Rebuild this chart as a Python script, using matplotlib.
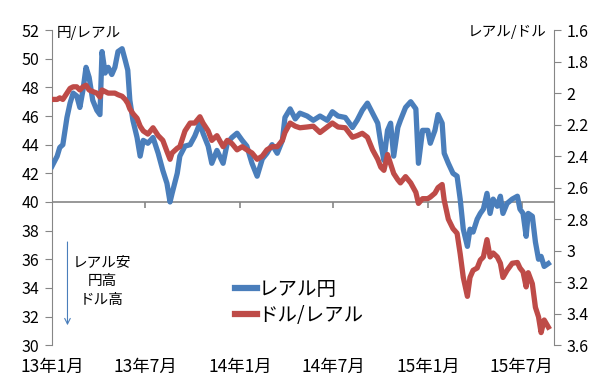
import numpy as np
import pandas as pd
import matplotlib
matplotlib.use("Agg")
import matplotlib.pyplot as plt
from matplotlib.lines import Line2D

plt.rcParams['font.family'] = ['Noto Sans CJK JP', 'DejaVu Sans']

dates = pd.to_datetime([
    "2013-01-01", "2013-01-11", "2013-01-16", "2013-01-22", "2013-01-30", "2013-02-05",
    "2013-02-11", "2013-02-18", "2013-02-24", "2013-03-02", "2013-03-08", "2013-03-14",
    "2013-03-21", "2013-03-29", "2013-04-04", "2013-04-08", "2013-04-14", "2013-04-20",
    "2013-04-27", "2013-05-03", "2013-05-09", "2013-05-17", "2013-05-23", "2013-05-28",
    "2013-06-01", "2013-06-07", "2013-06-15", "2013-06-21", "2013-06-27", "2013-07-06",
    "2013-07-16", "2013-07-26", "2013-08-04", "2013-08-12", "2013-08-18", "2013-08-22",
    "2013-09-01", "2013-09-06", "2013-09-16", "2013-09-26", "2013-10-05", "2013-10-15",
    "2013-10-21", "2013-10-31", "2013-11-07", "2013-11-17", "2013-11-29", "2013-12-07",
    "2013-12-16", "2013-12-26", "2014-01-05", "2014-01-14", "2014-01-24", "2014-02-03",
    "2014-02-13", "2014-02-22", "2014-03-04", "2014-03-14", "2014-03-24", "2014-03-29",
    "2014-04-08", "2014-04-18", "2014-04-27", "2014-05-11", "2014-05-23", "2014-06-05",
    "2014-06-19", "2014-06-29", "2014-07-10", "2014-07-24", "2014-08-07", "2014-08-16",
    "2014-08-26", "2014-09-05", "2014-09-15", "2014-09-25", "2014-10-01", "2014-10-07",
    "2014-10-14", "2014-10-20", "2014-10-26", "2014-11-03", "2014-11-08", "2014-11-18",
    "2014-11-28", "2014-12-08", "2014-12-13", "2014-12-21", "2014-12-31", "2015-01-05",
    "2015-01-14", "2015-01-20", "2015-01-28", "2015-02-01", "2015-02-09", "2015-02-18",
    "2015-02-26", "2015-03-04", "2015-03-10", "2015-03-18", "2015-03-23", "2015-03-29",
    "2015-04-06", "2015-04-12", "2015-04-18", "2015-04-25", "2015-05-01", "2015-05-07",
    "2015-05-15", "2015-05-21", "2015-05-26", "2015-06-03", "2015-06-13", "2015-06-23",
    "2015-06-28", "2015-07-04", "2015-07-10", "2015-07-14", "2015-07-22", "2015-07-28",
    "2015-08-03", "2015-08-08", "2015-08-14", "2015-08-22",
])

# レアル円 (円/レアル, left axis)
brl_jpy = [
    42.5, 43.2, 43.8, 44.0, 45.9, 46.9, 47.6, 47.4, 46.6, 47.8, 49.4, 48.7,
    47.1, 46.4, 46.1, 50.5, 49.0, 49.4, 48.9, 49.4, 50.5, 50.7, 49.9, 49.2,
    47.1, 45.7, 44.5, 43.2, 44.3, 44.1, 44.5, 43.4, 42.2, 41.3, 40.0, 40.6,
    42.0, 43.2, 43.9, 44.0, 44.6, 45.5, 44.8, 43.9, 42.7, 43.6, 42.7, 44.1,
    44.5, 44.8, 44.3, 43.9, 42.7, 41.8, 43.0, 43.4, 44.0, 43.4, 44.3, 45.9,
    46.5, 45.8, 46.2, 46.0, 45.7, 46.0, 45.7, 46.3, 46.0, 45.9, 45.2, 45.7,
    46.4, 46.9, 46.2, 45.5, 44.1, 42.9, 45.0, 45.5, 43.2, 45.2, 45.7, 46.6,
    47.0, 46.5, 42.7, 45.0, 45.0, 44.1, 45.0, 46.1, 45.5, 43.4, 42.7, 42.0,
    41.8, 40.2, 38.1, 36.9, 38.1, 37.9, 38.8, 39.2, 39.5, 40.6, 39.2, 40.2,
    39.7, 40.4, 39.2, 39.9, 40.2, 40.4, 39.5, 39.2, 37.6, 39.2, 39.0, 37.2,
    36.0, 36.2, 35.5, 35.7,
]

# ドル/レアル (レアル/ドル, right axis, inverted)
usd_brl = [
    2.04, 2.04, 2.03, 2.04, 2.00, 1.97, 1.96, 1.96, 1.98, 1.96, 1.95, 1.98,
    1.99, 2.00, 2.025, 1.98, 1.99, 2.00, 2.00, 2.00, 2.01, 2.02, 2.04, 2.065,
    2.10, 2.13, 2.16, 2.21, 2.24, 2.26, 2.22, 2.27, 2.30, 2.37, 2.42, 2.38,
    2.35, 2.34, 2.24, 2.19, 2.19, 2.15, 2.19, 2.24, 2.30, 2.27, 2.34, 2.30,
    2.32, 2.36, 2.34, 2.36, 2.38, 2.42, 2.40, 2.36, 2.34, 2.34, 2.30, 2.25,
    2.19, 2.21, 2.22, 2.215, 2.21, 2.25, 2.215, 2.19, 2.215, 2.22, 2.28, 2.27,
    2.255, 2.28, 2.36, 2.42, 2.47, 2.49, 2.39, 2.45, 2.51, 2.55, 2.57, 2.53,
    2.57, 2.63, 2.70, 2.67, 2.67, 2.66, 2.635, 2.60, 2.58, 2.68, 2.80, 2.86,
    2.89, 3.02, 3.17, 3.29, 3.17, 3.125, 3.11, 3.06, 3.04, 2.93, 3.04, 3.015,
    3.04, 3.08, 3.17, 3.125, 3.08, 3.075, 3.11, 3.135, 3.23, 3.14, 3.21, 3.36,
    3.42, 3.52, 3.44, 3.485,
]

tick_dates = pd.to_datetime(["2013-01-01", "2013-07-01", "2014-01-01",
                             "2014-07-01", "2015-01-01", "2015-07-01"])
tick_labels = ["13年1月", "13年7月", "14年1月", "14年7月", "15年1月", "15年7月"]

blue = "#4A7EBB"
red = "#BE4B48"
grey = "#868686"

fig = plt.figure(figsize=(6, 3.81), dpi=100)
ax = fig.add_axes([0.0867, 0.094, 0.8366, 0.827])
ax2 = ax.twinx()

ax.axhline(40, color=grey, lw=1.2, zorder=1)
ax.vlines(tick_dates, 40, 39.55, color=grey, lw=1.2, zorder=1)
ax.plot(dates, brl_jpy, color=blue, lw=3.8, solid_joinstyle="round", zorder=3)
ax2.plot(dates, usd_brl, color=red, lw=3.8, solid_joinstyle="round", zorder=3)

ax.set_xlim(pd.Timestamp("2013-01-01"), pd.Timestamp("2015-09-02"))
ax.set_ylim(30, 52)
ax.set_yticks(np.arange(30, 53, 2))
ax2.set_ylim(3.6, 1.6)
ax2.set_yticks(np.arange(1.6, 3.61, 0.2))
ax2.set_yticklabels(["%g" % round(v, 1) for v in np.arange(1.6, 3.61, 0.2)])

ax.set_xticks(tick_dates)
ax.set_xticklabels(tick_labels, fontsize=12.5)
ax.tick_params(axis="x", length=0, pad=9)

for a in (ax, ax2):
    a.spines["top"].set_visible(False)
    a.spines["bottom"].set_visible(False)
    a.spines["left"].set_color(grey)
    a.spines["right"].set_color(grey)
ax.spines["right"].set_visible(False)
ax2.spines["left"].set_visible(False)
ax.tick_params(axis="y", colors=grey, labelcolor="black", labelsize=11.5, length=5, pad=4)
ax2.tick_params(axis="y", colors=grey, labelcolor="black", labelsize=11.5, length=5, pad=4)

ax.text(0.01, 0.99, "円/レアル", transform=ax.transAxes, fontsize=10.5, ha="left", va="center")
ax2.text(0.985, 0.995, "レアル/ドル", transform=ax2.transAxes, fontsize=10.5, ha="right", va="center")

# direction note
ax.annotate("", xy=(pd.Timestamp("2013-01-31"), 31.2), xytext=(pd.Timestamp("2013-01-31"), 37.4),
            arrowprops=dict(arrowstyle="->", color=blue, lw=0.8))
ax.text(pd.Timestamp("2013-04-08"), 34.45, "レアル安\n円高\nドル高", fontsize=10.5,
        ha="center", va="center", linespacing=1.45)

handles = [Line2D([], [], color=blue, lw=4.5), Line2D([], [], color=red, lw=4.5)]
ax2.legend(handles, ["レアル円", "ドル/レアル"], loc="lower left", bbox_to_anchor=(0.33, 0.005),
           frameon=False, fontsize=14, handlelength=1.1, handletextpad=0.1, labelspacing=0.25)

fig.savefig("out.png", dpi=100)
